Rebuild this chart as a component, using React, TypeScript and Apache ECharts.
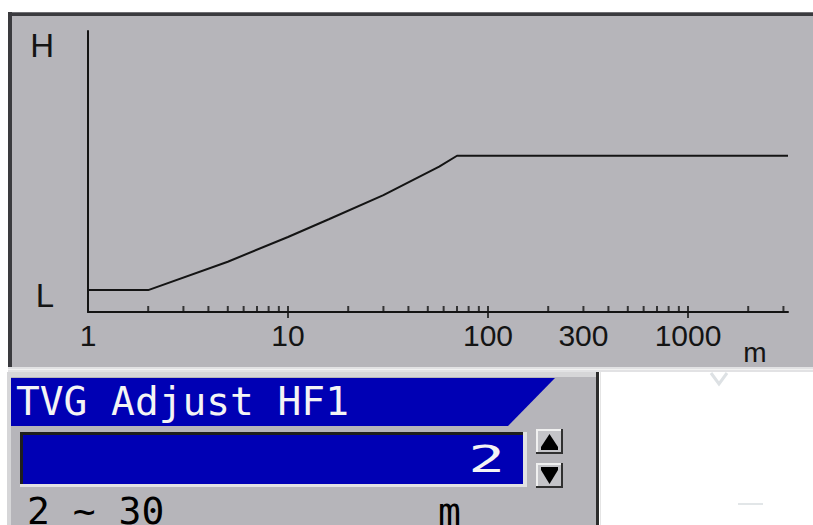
import React, { useEffect, useRef } from "react";
import * as echarts from "echarts";

// Distance (m, log axis) vs. TVG gain level (0 = bottom, 100 = top of plot)
const distances = [1, 2, 5, 10, 16, 30, 43, 57, 70, 3162];
const levels = [7.8, 7.8, 17.9, 26.7, 33.0, 41.6, 47.3, 51.7, 55.6, 55.6];

const xLabelValues = [1, 10, 100, 300, 1000];
const majorTicks = [10, 100, 1000];
const minorTicks = [
  2, 3, 4, 5, 6, 7, 8, 9,
  20, 30, 40, 50, 60, 70, 80, 90,
  200, 300, 400, 500, 600, 700, 800, 900,
  2000, 3000,
];
const yLabelValues = [5.7, 95];
const yLabelTexts = ["L", "H"];

const titleText = "TVG Adjust HF1";
const fieldValue = "2";
const rangeText = "2 ~ 30";
const unitText = "m";

const PANEL = "#b6b5ba";
const BLUE = "#0000b4";
const INK = "#141414";

export default function App() {
  const ref = useRef<HTMLDivElement>(null);

  useEffect(() => {
    if (!ref.current) return;
    const chart = echarts.init(ref.current, undefined, { renderer: "svg" });
    const mono = '"DejaVu Sans Mono", monospace';
    const narrow = '"Liberation Sans Narrow", "Liberation Sans", sans-serif';

    const graphic: any[] = [
      // upper panel
      { type: "rect", z: -10, silent: true, shape: { x: 8, y: 12, width: 805, height: 356 }, style: { fill: PANEL } },
      { type: "rect", z: -9, silent: true, shape: { x: 8, y: 12, width: 805, height: 4 }, style: { fill: "#3a3a3e" } },
      { type: "rect", z: -9, silent: true, shape: { x: 8, y: 12, width: 805, height: 1 }, style: { fill: "#707074" } },
      { type: "rect", z: -9, silent: true, shape: { x: 8, y: 12, width: 4, height: 357 }, style: { fill: "#3a3a3e" } },
      // separator
      { type: "rect", z: -9, silent: true, shape: { x: 8, y: 367, width: 805, height: 5 }, style: { fill: "#e2e2e4" } },
      { type: "rect", z: -9, silent: true, shape: { x: 8, y: 369, width: 805, height: 1 }, style: { fill: "#f2f2f2" } },
      // lower panel
      { type: "rect", z: -10, silent: true, shape: { x: 7, y: 372, width: 592, height: 153 }, style: { fill: PANEL } },
      { type: "rect", z: -9, silent: true, shape: { x: 7, y: 372, width: 590, height: 5 }, style: { fill: "#d6d6d8" } },
      { type: "rect", z: -9, silent: true, shape: { x: 7, y: 372, width: 4, height: 153 }, style: { fill: "#d6d6d8" } },
      { type: "rect", z: -9, silent: true, shape: { x: 596, y: 372, width: 3, height: 153 }, style: { fill: "#2c2c2c" } },
      { type: "rect", z: -9, silent: true, shape: { x: 600, y: 372, width: 1, height: 153 }, style: { fill: "#e4e4e4" } },
      // faint artifacts on white
      { type: "polyline", z: -9, silent: true, shape: { points: [[711, 373], [719, 384], [727, 373]] }, style: { stroke: "#dde1e4", lineWidth: 3, fill: "none" } },
      { type: "rect", z: -9, silent: true, shape: { x: 738, y: 503, width: 25, height: 2 }, style: { fill: "#e2e6e8" } },
      // title tab
      { type: "polygon", z: 5, silent: true, shape: { points: [[11, 378], [555, 378], [508, 426], [11, 426]] }, style: { fill: BLUE } },
      {
        type: "text", z: 6, silent: true, x: 16, y: 401,
        style: { text: titleText, fill: "#f4f4f4", font: `39.5px ${mono}`, align: "left", verticalAlign: "middle" },
      },
      // input field
      { type: "rect", z: 5, silent: true, shape: { x: 20, y: 432, width: 507, height: 55 }, style: { fill: "#e2e2e2" } },
      { type: "rect", z: 5, silent: true, shape: { x: 20, y: 432, width: 503, height: 52 }, style: { fill: "#1e1e1e" } },
      { type: "rect", z: 5, silent: true, shape: { x: 23, y: 435, width: 500, height: 49 }, style: { fill: BLUE } },
      {
        type: "text", z: 6, silent: true, x: 505, y: 459, scaleX: 1.65,
        style: { text: fieldValue, fill: "#f4f4f4", font: `37px ${mono}`, align: "right", verticalAlign: "middle" },
      },
      // up button
      { type: "rect", z: 5, silent: true, shape: { x: 536, y: 429, width: 27, height: 25 }, style: { fill: "#303030" } },
      { type: "rect", z: 5, silent: true, shape: { x: 536, y: 429, width: 25, height: 23 }, style: { fill: "#f0f0f0" } },
      { type: "rect", z: 5, silent: true, shape: { x: 538, y: 431, width: 23, height: 21 }, style: { fill: "#c4c4c8" } },
      { type: "polygon", z: 6, silent: true, shape: { points: [[549.5, 434], [541, 447], [558, 447]] }, style: { fill: "#000" } },
      { type: "rect", z: 6, silent: true, shape: { x: 541, y: 447, width: 17, height: 3 }, style: { fill: "#000" } },
      // down button
      { type: "rect", z: 5, silent: true, shape: { x: 536, y: 463, width: 27, height: 25 }, style: { fill: "#303030" } },
      { type: "rect", z: 5, silent: true, shape: { x: 536, y: 463, width: 25, height: 23 }, style: { fill: "#f0f0f0" } },
      { type: "rect", z: 5, silent: true, shape: { x: 538, y: 465, width: 23, height: 21 }, style: { fill: "#c4c4c8" } },
      { type: "rect", z: 6, silent: true, shape: { x: 541, y: 467, width: 17, height: 3 }, style: { fill: "#000" } },
      { type: "polygon", z: 6, silent: true, shape: { points: [[541, 470], [558, 470], [549.5, 484]] }, style: { fill: "#000" } },
      // range text
      {
        type: "text", z: 6, silent: true, x: 27, y: 511,
        style: { text: rangeText, fill: "#000", font: `38px ${mono}`, align: "left", verticalAlign: "middle" },
      },
      {
        type: "text", z: 6, silent: true, x: 438, y: 512,
        style: { text: unitText, fill: "#000", font: `38px ${mono}`, align: "left", verticalAlign: "middle" },
      },
      // x axis unit
      {
        type: "text", z: 6, silent: true, x: 755, y: 352,
        style: { text: unitText, fill: INK, font: `28px ${narrow}`, align: "center", verticalAlign: "middle" },
      },
    ];

    chart.setOption({
      animation: false,
      backgroundColor: "transparent",
      graphic,
      grid: { left: 88, top: 31, width: 700, height: 281, containLabel: false },
      xAxis: {
        type: "log",
        logBase: 10,
        min: 1,
        max: 3162,
        axisLine: { show: true, lineStyle: { color: INK, width: 2 } },
        axisTick: { show: false },
        minorTick: { show: false },
        splitLine: { show: false },
        axisLabel: {
          customValues: xLabelValues,
          color: INK,
          fontFamily: narrow,
          fontSize: 30,
          margin: 8,
          formatter: (v: number) => String(Math.round(v)),
        },
      },
      yAxis: {
        type: "value",
        min: 0,
        max: 100,
        axisLine: { show: true, onZero: false, lineStyle: { color: INK, width: 2 } },
        axisTick: { show: false },
        splitLine: { show: false },
        axisLabel: {
          customValues: yLabelValues,
          color: INK,
          fontFamily: narrow,
          fontSize: 33,
          margin: 34,
          formatter: (v: number) => yLabelTexts[yLabelValues.indexOf(v)] ?? (v > 50 ? "H" : "L"),
        },
      },
      series: [
        {
          type: "line",
          data: distances.map((d, i) => [d, levels[i]]),
          showSymbol: false,
          lineStyle: { color: INK, width: 2 },
          z: 3,
        },
        {
          type: "scatter",
          data: minorTicks.map((d) => [d, 0]),
          symbol: "rect",
          symbolSize: [2, 6],
          symbolOffset: [0, -3],
          itemStyle: { color: INK },
          clip: false,
          silent: true,
          z: 3,
        },
        {
          type: "scatter",
          data: majorTicks.map((d) => [d, 0]),
          symbol: "rect",
          symbolSize: [2, 12],
          itemStyle: { color: INK },
          clip: false,
          silent: true,
          z: 3,
        },
      ],
    });
    return () => chart.dispose();
  }, []);

  return (
    <div
      ref={ref}
      style={{ position: "absolute", left: 0, top: 0, width: 813, height: 525 }}
    />
  );
}
